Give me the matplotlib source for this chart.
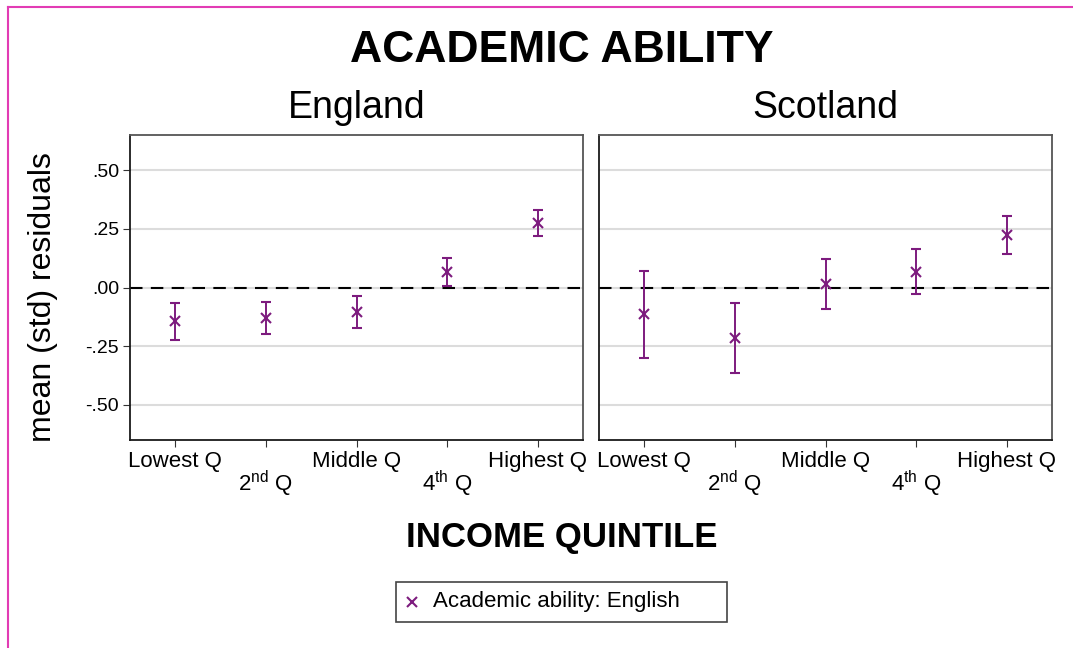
import matplotlib
matplotlib.use("Agg")
import matplotlib.pyplot as plt
from matplotlib.lines import Line2D
from matplotlib.patches import Rectangle

plt.rcParams['font.family'] = ['Liberation Sans', 'DejaVu Sans']
plt.rcParams['mathtext.fontset'] = 'custom'
plt.rcParams['mathtext.rm'] = 'Liberation Sans'
plt.rcParams['mathtext.it'] = 'Liberation Sans'

# ---- data ----
quintiles = ["Lowest Q", "2$^{\\mathrm{nd}}$ Q", "Middle Q", "4$^{\\mathrm{th}}$ Q", "Highest Q"]
panels = ["England", "Scotland"]
england_mean = [-0.142, -0.128, -0.103, 0.067, 0.275]
england_low = [-0.225, -0.199, -0.171, 0.007, 0.218]
england_high = [-0.064, -0.060, -0.037, 0.127, 0.329]
scotland_mean = [-0.114, -0.214, 0.017, 0.068, 0.222]
scotland_low = [-0.301, -0.363, -0.091, -0.027, 0.141]
scotland_high = [0.070, -0.068, 0.123, 0.164, 0.305]
yticks = [-0.50, -0.25, 0.00, 0.25, 0.50]
ytick_labels = ["-.50", "-.25", ".00", ".25", ".50"]
series_label = "Academic ability: English"
title = "ACADEMIC ABILITY"
xlabel = "INCOME QUINTILE"
ylabel = "mean (std) residuals"

purple = "#7d1b7e"
W, H = 1073, 648
fig = plt.figure(figsize=(W / 100, H / 100), dpi=100)

def fx(px):
    return px / W

def fy(py):
    return 1 - py / H

ax_top, ax_bot = 135, 440
lefts = [130, 599]
width = 453
data = [(england_mean, england_low, england_high), (scotland_mean, scotland_low, scotland_high)]

xs = list(range(1, len(quintiles) + 1))
for i, (name, (m, lo, hi)) in enumerate(zip(panels, data)):
    ax = fig.add_axes([fx(lefts[i]), fy(ax_bot), fx(width), (ax_bot - ax_top) / H])
    for y in yticks:
        ax.axhline(y, color="#dcdcdc", lw=1.5, zorder=0)
    ax.axhline(0, color="black", lw=1.5, ls=(0, (6, 4)), zorder=1)
    yerr = [[mm - l for mm, l in zip(m, lo)], [h - mm for mm, h in zip(m, hi)]]
    ax.errorbar(xs, m, yerr=yerr, fmt="x", color=purple, ecolor=purple,
                elinewidth=1.4, capsize=3.5, capthick=1.4, markersize=7,
                markeredgewidth=1.5, zorder=3)
    ax.set_xlim(0.5, 5.5)
    ax.set_ylim(-0.65, 0.65)
    ax.set_xticks(xs)
    ax.set_xticklabels(quintiles, fontsize=16)
    ax.tick_params(axis="x", length=5, width=0.8, color="#333333", pad=3)
    for j, t in enumerate(ax.xaxis.get_major_ticks()):
        if j % 2 == 1:
            t.set_pad(15.5)
    if i == 0:
        ax.set_yticks(yticks)
        ax.set_yticklabels(ytick_labels, fontsize=14)
        ax.tick_params(axis="y", length=5, width=0.8, color="#333333", pad=3)
    else:
        ax.set_yticks([])
    for s in ["left", "bottom"]:
        ax.spines[s].set_color("#1a1a1a")
        ax.spines[s].set_linewidth(1.3)
    for s in ["top", "right"]:
        ax.spines[s].set_color("#555555")
        ax.spines[s].set_linewidth(1.3)
    fig.text(fx(lefts[i] + width / 2), fy(108), name, fontsize=27,
             ha="center", va="center")

fig.text(fx(562), fy(50), title, fontsize=32, fontweight="bold", ha="center", va="center")
fig.text(fx(562), fy(537), xlabel, fontsize=25, fontweight="bold", ha="center", va="center")
fig.text(fx(43), fy(297), ylabel, fontsize=23, rotation=90, ha="center", va="center")

# legend box drawn manually to match the reference padding
fig.add_artist(Rectangle((fx(396), fy(622)), fx(727 - 396), (622 - 582) / H,
                         transform=fig.transFigure, facecolor="white",
                         edgecolor="#444444", lw=1.2))
fig.add_artist(Line2D([fx(412)], [fy(602)], marker="x", ls="none", color=purple,
                      markersize=7, markeredgewidth=1.5))
fig.text(fx(433), fy(602), series_label, fontsize=16, ha="left", va="center")

# magenta border
fig.add_artist(Line2D([fx(8), 1], [fy(7), fy(7)], color="#e23cb4", lw=1.5))
fig.add_artist(Line2D([fx(8), fx(8)], [fy(7), 0], color="#e23cb4", lw=1.5))

fig.savefig("out.png", dpi=100)
